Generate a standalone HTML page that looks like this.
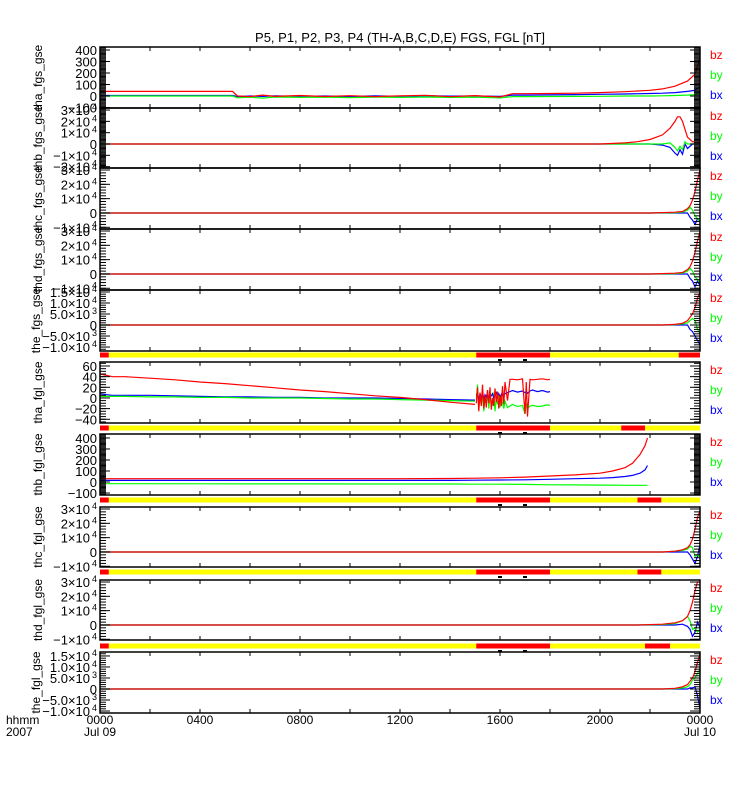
<!DOCTYPE html>
<html><head><meta charset="utf-8"><style>
body{margin:0;background:#fff;}
svg{display:block;font-family:"Liberation Sans",sans-serif;}
</style></head><body>
<svg id="chart" width="750" height="800" viewBox="0 0 750 800" xmlns="http://www.w3.org/2000/svg">
<rect width="750" height="800" fill="#fff"/>
<text x="400" y="42" font-size="13" text-anchor="middle">P5, P1, P2, P3, P4 (TH-A,B,C,D,E) FGS, FGL [nT]</text>
<g id="g"></g>
</svg>
<script>
// ---- data (hours since 0000 Jul 09) ----
const p1T  = [0,2,3.5,5.3,5.5,6,6.5,7,8,9,10,11,12,13,14,15,16,16.5,17,18,19,20,21,22,22.5,23,23.5,23.8,24];
const p1Bz = [40,40,40,40,0,-5,8,-3,5,-4,3,-5,2,6,-6,4,-8,20,20,22,25,30,38,50,62,85,130,190,330];
const p1By = [0,0,0,0,-15,-10,-18,-8,-12,-10,-14,-9,-12,-8,-12,-10,-16,-5,-5,-4,-3,-2,0,0,2,5,8,12,30];
const p1Bx = [5,5,5,5,-5,0,-3,2,-2,0,-4,1,-2,3,-1,0,-3,8,8,10,12,15,18,22,25,30,40,50,80];

const p2T  = [0,20,21,21.5,22,22.5,22.8,23,23.1,23.2,23.3,23.4,23.5,23.7,24];
const p2Bz = [0,0,0.1,0.2,0.4,0.8,1.4,2.0,2.4,2.4,2.0,1.3,0.6,0.2,0.1];
const p2By = [0,0,0,0,0,0,0.1,-0.3,-0.6,-0.2,-0.5,0.2,0,0,0];
const p2Bx = [0,0,0,0,0,-0.1,-0.3,-0.8,-1.0,-0.5,-0.9,0,-0.4,0,0];

const p3T  = [0,22,23,23.3,23.5,23.6,23.7,23.8,23.9,24];
const p3Bz = [0,0,0.05,0.1,0.3,0.5,0.9,1.5,2.3,3.0];
const p3By = [0,0,0.02,0.05,0.2,0.4,0.2,-0.2,-0.4,-0.6];
const p3Bx = [0,0,0,0,0,-0.3,-0.5,-0.8,-0.4,-0.6];

const p4T  = [0,22,23,23.3,23.5,23.6,23.7,23.8,23.9,24];
const p4Bz = [0,0,0.05,0.1,0.3,0.5,0.9,1.5,2.3,3.0];
const p4By = [0,0,0.02,0.05,0.2,0.4,0.2,-0.2,-0.4,-0.6];
const p4Bx = [0,0,0,0,0,-0.3,-0.5,-0.9,-0.5,-0.8];

const p5T  = [0,22.5,23,23.3,23.5,23.6,23.7,23.8,23.9,24];
const p5Bz = [0,0,0.03,0.08,0.2,0.35,0.5,0.8,1.2,1.5];
const p5By = [0,0,0.02,0.05,0.1,0.2,0.3,0.2,-0.2,-0.4];
const p5Bx = [0,0,0,0,0,-0.2,-0.3,-0.5,-0.7,-0.9];

const p6T  = [0,0.3,0.5,1,2,3,4,5,6,7,8,9,10,11,12,13,14,15];
const p6Bz = [45,42,40,40,37,34,30,27,23,19,15,12,8,4,1,-3,-8,-12];
const p6By = [3,3,3,3,2,2,1,1,0,0,0,-1,-2,-2,-3,-4,-5,-6];
const p6Bx = [8,6,5,5,5,4,3,2,2,1,1,0,0,0,-1,-2,-3,-4];
const p6NT  = [15.05,15.1,15.15,15.2,15.25,15.3,15.35,15.4,15.45,15.5,15.55,15.6,15.65,15.7,15.75,15.8,15.85,15.9,15.95,16,16.05,16.1,16.15,16.2,16.3,16.4,16.5,16.7,16.9,17,17.05,17.1,17.2,17.3,17.5,17.7,17.9,18];
const p6NBz = [-10,20,-25,10,-15,25,-20,5,-18,15,-10,20,-22,0,-15,18,-8,12,-20,6,-15,22,-12,30,-5,35,35,34,36,-30,30,-35,35,34,35,36,34,35];
const p6NBy = [-5,25,-20,5,-15,10,-25,0,-10,15,-20,5,-8,-15,10,-25,0,-12,8,-18,5,-10,-20,-6,-18,-15,-12,-16,-14,-30,-10,-20,-15,-14,-16,-15,-13,-14];
const p6NBx = [5,10,-5,8,0,12,-3,6,2,10,-2,6,4,8,0,5,10,3,8,2,6,12,4,8,10,12,14,11,13,10,12,9,13,15,12,14,11,12];

const p7T  = [0,1,4,8,12,14,15,16,17,18,19,20,20.5,21,21.3,21.6,21.8,21.9];
const p7Bz = [30,30,30,30,30,32,35,38,45,55,65,80,100,130,170,250,330,400];
const p7By = [-15,-15,-16,-17,-18,-18,-20,-20,-22,-25,-26,-28,-28,-30,-30,-30,-30,-30];
const p7Bx = [15,15,15,15,15,15,16,18,20,25,30,35,40,50,60,80,110,150];

const p8T  = [0,22.5,23,23.3,23.5,23.6,23.7,23.8,23.9,24];
const p8Bz = [0,0,0.05,0.15,0.3,0.5,0.9,1.6,2.4,2.9];
const p8By = [0,0,0.05,0.1,0.2,0.4,0.3,-0.3,-0.2,-0.4];
const p8Bx = [0,0,0,0,0,-0.2,-0.5,-0.8,-0.3,0.5];

const p9T  = [0,21.5,22.5,23,23.3,23.5,23.6,23.7,23.8,23.9,24];
const p9Bz = [0,0,0.05,0.15,0.3,0.6,1.0,1.6,2.4,3.0,3.0];
const p9By = [0,0,0.03,0.1,0.3,0.6,0.3,-0.3,-0.2,-0.5,-0.3];
const p9Bx = [0,0,0,0,0.05,-0.1,-0.3,-0.8,-0.5,0.2,-0.2];

const p10T  = [0,22.5,23,23.3,23.5,23.6,23.7,23.8,23.9,24];
const p10Bz = [0,0,0.03,0.1,0.2,0.35,0.5,0.8,1.2,1.6];
const p10By = [0,0,0.02,0.05,0.1,0.2,0.4,0.5,0.7,0.9];
const p10Bx = [0,0,0,0,0,0.05,0.05,0.1,-0.3,-0.9];

// ---- state bars (red segments, hours) ----
const barStarts = [[0,15.05,23.15],[0,15.05,20.85],[0,15.05,21.5],[0,15.05,21.5],[0,15.05,21.8]];
const barEnds   = [[0.35,18,24],[0.35,18,21.8],[0.35,18,22.45],[0.35,18,22.45],[0.35,18,22.8]];

const xTickLabels = ["0000","0400","0800","1200","1600","2000","0000"];
const xTickHours  = [0,4,8,12,16,20,24];

// ---- layout ----
const X0=100, X1=700;
function xs(h){return X0+(X1-X0)*h/24;}
const NS='http://www.w3.org/2000/svg';
const g=document.getElementById('g');
function el(tag,attrs,parent){const e=document.createElementNS(NS,tag);for(const k in attrs)e.setAttribute(k,attrs[k]);(parent||g).appendChild(e);return e;}

const panels=[
 {name:'tha-fgs',label:'tha_fgs_gse',top:47,bot:108,min:-104,max:426,exp:0,major:[400,300,200,100,0,-100],lab:['400','300','200','100','0','\u2212100'],minor:10,series:[[p1T,p1Bx,'#0000ff'],[p1T,p1By,'#00ff00'],[p1T,p1Bz,'#ff0000']]},
 {name:'thb-fgs',label:'thb_fgs_gse',top:108,bot:168,min:-2.12,max:3.18,major:[3,2,1,0,-1,-2],lab:['3','2','1','0','\u22121','\u22122'],exp:4,minor:0.1,series:[[p2T,p2Bx,'#0000ff'],[p2T,p2By,'#00ff00'],[p2T,p2Bz,'#ff0000']]},
 {name:'thc-fgs',label:'thc_fgs_gse',top:168,bot:229,min:-1.12,max:3.14,major:[3,2,1,0,-1],lab:['3','2','1','0','\u22121'],exp:4,minor:0.2,series:[[p3T,p3Bx,'#0000ff'],[p3T,p3By,'#00ff00'],[p3T,p3Bz,'#ff0000']]},
 {name:'thd-fgs',label:'thd_fgs_gse',top:229,bot:290,min:-1.12,max:3.14,major:[3,2,1,0,-1],lab:['3','2','1','0','\u22121'],exp:4,minor:0.2,series:[[p4T,p4Bx,'#0000ff'],[p4T,p4By,'#00ff00'],[p4T,p4Bz,'#ff0000']]},
 {name:'the-fgs',label:'the_fgs_gse',top:290,bot:351,min:-1.18,max:1.59,major:[1.5,1,0.5,0,-0.5,-1],lab:['1.5','1.0','5.0','0','\u22125.0','\u22121.0'],exp:[4,4,3,0,3,4],minor:0.1,series:[[p5T,p5Bx,'#0000ff'],[p5T,p5By,'#00ff00'],[p5T,p5Bz,'#ff0000']]},
 {name:'tha-fgl',label:'tha_fgl_gse',top:362,bot:423,min:-47,max:67.5,exp:0,major:[60,40,20,0,-20,-40],lab:['60','40','20','0','\u221220','\u221240'],minor:5,series:[[p6T,p6Bx,'#0000ff'],[p6T,p6By,'#00ff00'],[p6T,p6Bz,'#ff0000'],[p6NT,p6NBy,'#00ff00'],[p6NT,p6NBx,'#0000ff'],[p6NT,p6NBz,'#ff0000']]},
 {name:'thb-fgl',label:'thb_fgl_gse',top:434,bot:495,min:-118,max:436,exp:0,major:[400,300,200,100,0,-100],lab:['400','300','200','100','0','\u2212100'],minor:10,series:[[p7T,p7Bx,'#0000ff'],[p7T,p7By,'#00ff00'],[p7T,p7Bz,'#ff0000']]},
 {name:'thc-fgl',label:'thc_fgl_gse',top:507,bot:567,min:-1.05,max:3.14,major:[3,2,1,0,-1],lab:['3','2','1','0','\u22121'],exp:4,minor:0.2,series:[[p8T,p8Bx,'#0000ff'],[p8T,p8By,'#00ff00'],[p8T,p8Bz,'#ff0000']]},
 {name:'thd-fgl',label:'thd_fgl_gse',top:580,bot:640,min:-1.05,max:3.14,major:[3,2,1,0,-1],lab:['3','2','1','0','\u22121'],exp:4,minor:0.2,series:[[p9T,p9Bx,'#0000ff'],[p9T,p9By,'#00ff00'],[p9T,p9Bz,'#ff0000']]},
 {name:'the-fgl',label:'the_fgl_gse',top:652,bot:713,min:-1.09,max:1.68,major:[1.5,1,0.5,0,-0.5,-1],lab:['1.5','1.0','5.0','0','\u22125.0','\u22121.0'],exp:[4,4,3,0,3,4],minor:0.1,series:[[p10T,p10Bx,'#0000ff'],[p10T,p10By,'#00ff00'],[p10T,p10Bz,'#ff0000']]}
];
const barY=[355,428,500,572,646];

panels.forEach((p,pi)=>{
  const ys=v=>p.bot-(v-p.min)/(p.max-p.min)*(p.bot-p.top);
  const pg=el('g',{});
  
  
  p.series.forEach((s,si)=>{
    const pts=s[0].map((t,i)=>xs(t).toFixed(1)+','+ys(s[1][i]).toFixed(1)).join(' ');
    const pl=el('polyline',{points:pts,fill:'none',stroke:s[2],'stroke-width':1.2},pg);
    
    
  });
  const fr=el('rect',{x:X0,y:p.top,width:X1-X0,height:p.bot-p.top,fill:'none',stroke:'#000','stroke-width':1.5},pg);
  
  
  const step=p.minor;
  for(let v=Math.ceil(p.min/step)*step; v<=p.max; v+=step){
    const y=ys(v);
    el('line',{x1:X0,x2:X0+6,y1:y,y2:y,stroke:'#000','stroke-width':1},pg);
    el('line',{x1:X1-6,x2:X1,y1:y,y2:y,stroke:'#000','stroke-width':1},pg);
  }
  p.major.forEach((v,i)=>{
    const y=ys(v);
    el('line',{x1:X0,x2:X0+10,y1:y,y2:y,stroke:'#000','stroke-width':1},pg);
    el('line',{x1:X1-10,x2:X1,y1:y,y2:y,stroke:'#000','stroke-width':1},pg);
    const ex=Array.isArray(p.exp)?p.exp[i]:p.exp;
    const t=el('text',{x:ex&&v!==0?90:97,y:y+5,'font-size':13,'text-anchor':'end'},pg);
    
    
    if(ex&&v!==0){
      t.textContent=p.lab[i]+'\u00d710';
      const sp=el('tspan',{x:97,dy:-5,'font-size':9,'text-anchor':'end'},t);
      sp.textContent=ex;
    } else t.textContent=p.lab[i];
  });
  for(let h=2;h<24;h+=2){
    const x=xs(h);
    el('line',{x1:x,x2:x,y1:p.top,y2:p.top+4,stroke:'#000'},pg);
    el('line',{x1:x,x2:x,y1:p.bot-4,y2:p.bot,stroke:'#000'},pg);
  }
  const yl=el('text',{x:0,y:0,'font-size':12,'text-anchor':'middle',transform:`translate(${pi==4||pi==9?40:42},${(p.top+p.bot)/2}) rotate(-90)`},pg);
  yl.textContent=p.label;
  
  
  [['bz','#ff0000',8],['by','#00ff00',28],['bx','#0000ff',48]].forEach(l=>{
    const t=el('text',{x:710,y:p.top+l[2]+4,'font-size':12,fill:l[1]},pg);
    t.textContent=l[0];
    
    
  });
});

barY.forEach((y,bi)=>{
  const b=el('rect',{x:X0,y:y-2.5,width:X1-X0,height:5,fill:'#ffff00'});
  
  
  barStarts[bi].forEach((s,i)=>{
    const r=el('rect',{x:xs(s),y:y-2.5,width:xs(barEnds[bi][i])-xs(s),height:5,fill:'#ff0000'});
    
    
  });
  [16,17].forEach(h=>{el('rect',{x:xs(h)-2,y:y+4,width:4,height:2,fill:'#000'});});
});

xTickHours.forEach((h,i)=>{
  const t=el('text',{x:xs(h),y:724,'font-size':12,'text-anchor':'middle'});
  t.textContent=xTickLabels[i];
  
  
});
[['Jul 09',0],['Jul 10',24]].forEach(d=>{
  const t=el('text',{x:xs(d[1]),y:736,'font-size':12,'text-anchor':'middle'});
  t.textContent=d[0];
  
  
});
const h1=el('text',{x:6,y:724,'font-size':12});h1.textContent='hhmm';


const h2=el('text',{x:6,y:736,'font-size':12});h2.textContent='2007';


</script>
</body></html>
